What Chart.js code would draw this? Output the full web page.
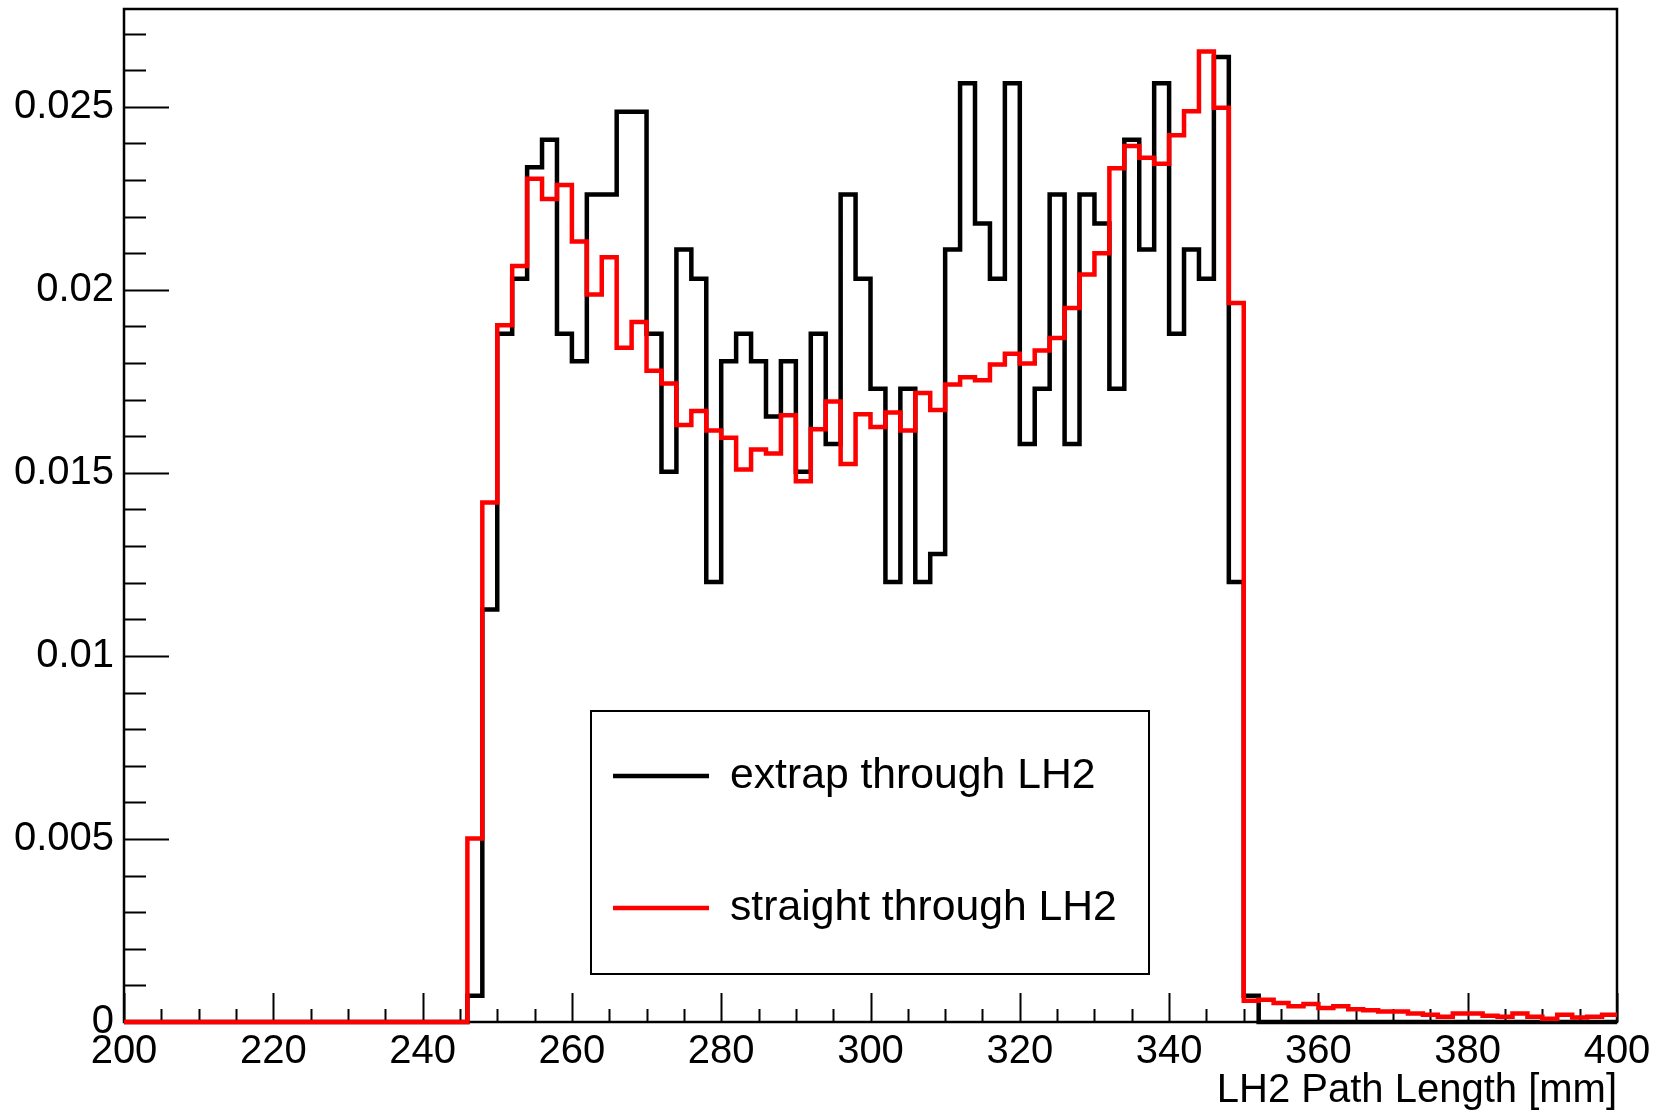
<!DOCTYPE html>
<html>
<head>
<meta charset="utf-8">
<script src="https://cdn.jsdelivr.net/npm/chart.js@4.4.0/dist/chart.umd.min.js"></script>
<style>
html,body{margin:0;padding:0;background:#fff;}
#wrap{width:1663px;height:1115px;position:relative;}
</style>
</head>
<body>
<div id="wrap"><canvas id="c" width="1663" height="1115"></canvas></div>
<script>
// Bin edges of the histogram (LH2 path length, mm)
const binEdges = [200,202,204,206,208,210,212,214,216,218,220,222,224,226,228,230,232,234,236,238,
  240,242,244,246,248,250,252,254,256,258,260,262,264,266,268,270,272,274,276,278,
  280,282,284,286,288,290,292,294,296,298,300,302,304,306,308,310,312,314,316,318,
  320,322,324,326,328,330,332,334,336,338,340,342,344,346,348,350,352,354,356,358,
  360,362,364,366,368,370,372,374,376,378,380,382,384,386,388,390,392,394,396,398,400];

// "extrap through LH2" (black)
const extrapValues = [
  0,0,0,0,0,0,0,0,0,0, 0,0,0,0,0,0,0,0,0,0, 0,0,0,
  0.00072,0.01127,0.01880,0.02030,0.02335,0.02410,0.01880,0.01805,0.02260,0.02260,
  0.02486,0.02486,0.01880,0.01503,0.02110,0.02030,0.01202,0.01805,0.01880,0.01805,
  0.01654,0.01805,0.01503,0.01880,0.01579,0.02260,0.02030,0.01730,0.01202,0.01730,
  0.01202,0.01278,0.02110,0.02564,0.02181,0.02030,0.02564,0.01579,0.01730,0.02260,
  0.01579,0.02260,0.02181,0.01730,0.02410,0.02110,0.02564,0.01880,0.02110,0.02030,
  0.02636,0.01202,0.00072,
  0,0,0,0,0,0,0,0,0,0, 0,0,0,0,0,0,0,0,0,0, 0,0,0,0
];

// "straight through LH2" (red)
const straightValues = [
  0,0,0,0,0,0,0,0,0,0, 0,0,0,0,0,0,0,0,0,0, 0,0,0,
  0.00501,0.01419,0.01903,0.02065,0.02303,0.02248,0.02286,0.02132,0.01987,0.02089,
  0.01842,0.01912,0.01779,0.01744,0.01631,0.01669,0.01616,0.01596,0.01509,0.01564,
  0.01553,0.01657,0.01477,0.01619,0.01695,0.01524,0.01660,0.01625,0.01665,0.01616,
  0.01718,0.01672,0.01741,0.01761,0.01753,0.01796,0.01825,0.01799,0.01834,0.01868,
  0.01950,0.02042,0.02100,0.02332,0.02393,0.02361,0.02344,0.02422,0.02488,0.02651,
  0.02497,0.01964,0.00058,0.00061,0.00052,0.00043,0.00049,0.00038,0.00043,0.00035,
  0.00032,0.00029,0.00029,0.00023,0.00020,0.00014,0.00023,0.00023,0.00017,0.00014,
  0.00023,0.00014,0.00009,0.00020,0.00012,0.00014,0.00020
];

const seriesNames = ['extrap through LH2', 'straight through LH2'];
const xTickLabels = ['200','220','240','260','280','300','320','340','360','380','400'];
const yTickLabels = ['0','0.005','0.01','0.015','0.02','0.025'];
const xTitle = 'LH2 Path Length [mm]';
const yMax = 0.02767;

function histPoints(vals) {
  const pts = vals.map((v, i) => ({x: binEdges[i], y: v}));
  pts.push({x: binEdges[vals.length], y: vals[vals.length - 1]});
  return pts;
}

const FONT = "'Liberation Sans', Arial, Helvetica, sans-serif";
Chart.defaults.font.family = FONT;
Chart.defaults.color = '#000';

const frameTicks = {
  id: 'frameTicks',
  beforeDatasetsDraw(chart) {
    const {ctx, chartArea: a, scales: {x, y}} = chart;
    ctx.save();
    ctx.strokeStyle = '#000';
    ctx.lineWidth = 2.5;
    ctx.strokeRect(a.left, a.top, a.right - a.left, a.bottom - a.top);
    ctx.lineWidth = 2;
    ctx.beginPath();
    y.ticks.forEach(t => {
      const m = Math.round(t.value * 1000);
      if (Math.abs(t.value * 1000 - m) > 1e-6) return;
      const len = (m % 5 === 0) ? 45 : 22;
      const py = Math.round(y.getPixelForValue(t.value)) + 0.5;
      ctx.moveTo(a.left, py); ctx.lineTo(a.left + len, py);
    });
    x.ticks.forEach(t => {
      const len = (Math.round(t.value) % 20 === 0) ? 29 : 13;
      const px = Math.round(x.getPixelForValue(t.value)) + 0.5;
      ctx.moveTo(px, a.bottom); ctx.lineTo(px, a.bottom - len);
    });
    ctx.stroke();
    ctx.restore();
  },
  afterDatasetsDraw(chart) {
    const {ctx} = chart;
    ctx.save();
    // legend box
    ctx.fillStyle = '#fff';
    ctx.fillRect(591, 711, 558, 263);
    ctx.strokeStyle = '#000';
    ctx.lineWidth = 2;
    ctx.strokeRect(591, 711, 558, 263);
    const ds = chart.data.datasets;
    const rows = [
      {y: 776, color: ds[1].borderColor, text: ds[1].label},
      {y: 908, color: ds[0].borderColor, text: ds[0].label}
    ];
    rows.forEach(r => {
      ctx.strokeStyle = r.color;
      ctx.lineWidth = 4.5;
      ctx.beginPath();
      ctx.moveTo(613, r.y); ctx.lineTo(709, r.y);
      ctx.stroke();
      ctx.fillStyle = '#000';
      ctx.font = "42.7px " + FONT;
      ctx.textBaseline = 'middle';
      ctx.textAlign = 'left';
      ctx.fillText(r.text, 730, r.y);
    });
    ctx.restore();
  }
};

new Chart(document.getElementById('c'), {
  type: 'line',
  data: {
    datasets: [
      {
        label: seriesNames[1],
        data: histPoints(straightValues),
        borderColor: '#ff0000',
        borderWidth: 4.5,
        stepped: 'before',
        pointRadius: 0,
        fill: false,
        clip: 6
      },
      {
        label: seriesNames[0],
        data: histPoints(extrapValues),
        borderColor: '#000000',
        borderWidth: 4.5,
        stepped: 'before',
        pointRadius: 0,
        fill: false,
        clip: 6
      }
    ]
  },
  options: {
    responsive: false,
    animation: false,
    devicePixelRatio: 1,
    events: [],
    layout: {padding: {top: 9, right: 46, left: 0, bottom: 0}},
    plugins: {legend: {display: false}, tooltip: {enabled: false}},
    scales: {
      x: {
        type: 'linear',
        min: 200, max: 400,
        grid: {display: false, drawTicks: false, tickLength: 0},
        border: {display: false},
        ticks: {
          stepSize: 5,
          autoSkip: false,
          maxRotation: 0,
          padding: 6,
          font: {size: 40},
          color: '#000',
          callback: (v) => {
            const r = Math.round(v);
            if (Math.abs(v - r) > 1e-6 || r % 20 !== 0) return '';
            return xTickLabels[(r - 200) / 20];
          }
        },
        title: {
          display: true,
          text: xTitle,
          align: 'end',
          color: '#000',
          font: {size: 40},
          padding: {top: 0, bottom: 0}
        },
        afterFit: (s) => { s.height = 93; s.paddingLeft = 0; s.paddingRight = 0; s.paddingTop = 0; s.paddingBottom = 0; }
      },
      y: {
        type: 'linear',
        min: 0, max: yMax,
        grid: {display: false, drawTicks: false, tickLength: 0},
        border: {display: false},
        ticks: {
          stepSize: 0.001,
          includeBounds: false,
          autoSkip: false,
          padding: 10,
          font: {size: 40},
          color: '#000',
          callback: (v) => {
            const m = Math.round(v * 1000);
            if (Math.abs(v * 1000 - m) > 1e-6 || m % 5 !== 0) return '';
            return yTickLabels[m / 5];
          }
        },
        afterFit: (s) => { s.width = 124; s.paddingLeft = 0; s.paddingRight = 0; s.paddingTop = 0; s.paddingBottom = 0; }
      }
    }
  },
  plugins: [frameTicks]
});
</script>
</body>
</html>
